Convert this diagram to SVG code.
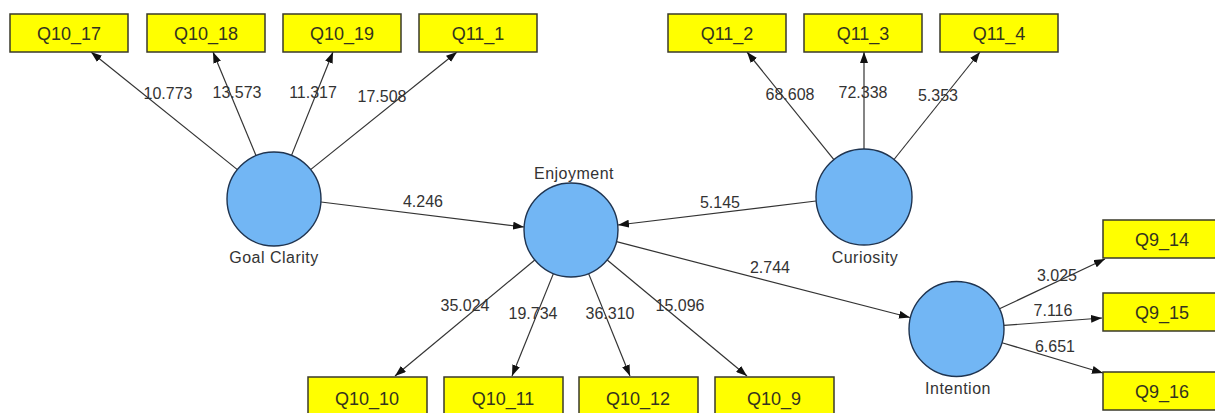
<svg xmlns="http://www.w3.org/2000/svg" width="1215" height="413" viewBox="0 0 1215 413">
  <style>
    .ind rect { fill: #ffff00; stroke: #3a3a2a; stroke-width: 1.5; }
    .ind text { font-family: "Liberation Sans", Arial, sans-serif; font-size: 18px; fill: #33331f; text-anchor: middle; }
    .lv circle { fill: #72b6f4; stroke: #1f3450; stroke-width: 1.4; }
    .lv text { font-family: "Liberation Sans", Arial, sans-serif; font-size: 16px; letter-spacing: 0.5px; fill: #333; text-anchor: middle; }
    .edges line { stroke: #333; stroke-width: 1.2; marker-end: url(#arrow); }
    .edges text { font-family: "Liberation Sans", Arial, sans-serif; font-size: 16px; fill: #333; text-anchor: middle; }
  </style>
  <defs>
    <marker id="arrow" markerUnits="userSpaceOnUse" markerWidth="11" markerHeight="8" refX="11" refY="4" orient="auto">
      <path d="M0,0 L11,4 L0,8 z" fill="#111"/>
    </marker>
  </defs>
  <rect width="1215" height="413" fill="#ffffff"/>

  <!-- path and loading connectors -->
  <g id="connectors" class="edges">
    <!-- Goal Clarity loadings -->
    <line x1="237.4" y1="169.6" x2="91" y2="52"/>
    <line x1="256" y1="155.6" x2="213" y2="52"/>
    <line x1="291.5" y1="155.4" x2="333" y2="52"/>
    <line x1="310.6" y1="169.6" x2="457" y2="52"/>
    <text x="168" y="99">10.773</text>
    <text x="237" y="97.5">13.573</text>
    <text x="313" y="97.5">11.317</text>
    <text x="382" y="102">17.508</text>

    <!-- Curiosity loadings -->
    <line x1="833.9" y1="159.7" x2="747" y2="52"/>
    <line x1="864" y1="149" x2="864" y2="52"/>
    <line x1="894" y1="159.5" x2="980" y2="52"/>
    <text x="790" y="100">68.608</text>
    <text x="863" y="98">72.338</text>
    <text x="938" y="101">5.353</text>

    <!-- structural paths -->
    <line x1="321" y1="202" x2="524" y2="227"/>
    <text x="423" y="207">4.246</text>
    <line x1="816" y1="201" x2="618" y2="225"/>
    <text x="720" y="208">5.145</text>
    <line x1="616.5" y1="241.7" x2="910" y2="317.5"/>
    <text x="770" y="273">2.744</text>

    <!-- Enjoyment loadings -->
    <line x1="534.8" y1="260" x2="395" y2="376"/>
    <line x1="553.4" y1="273.6" x2="512" y2="376"/>
    <line x1="588.6" y1="273.6" x2="630" y2="376"/>
    <line x1="607.2" y1="260" x2="747" y2="376"/>
    <text x="465" y="311">35.024</text>
    <text x="533" y="319">19.734</text>
    <text x="610" y="319">36.310</text>
    <text x="680" y="311">15.096</text>

    <!-- Intention loadings -->
    <line x1="999.5" y1="308.8" x2="1105" y2="259"/>
    <line x1="1003.9" y1="325.4" x2="1102" y2="318"/>
    <line x1="1002" y1="342.7" x2="1103" y2="373"/>
    <text x="1057" y="281">3.025</text>
    <text x="1053" y="316">7.116</text>
    <text x="1055" y="352">6.651</text>
  </g>

  <!-- latent variables -->
  <g id="goal-clarity" class="lv">
    <circle cx="274" cy="199" r="47"/>
    <text x="274" y="263">Goal Clarity</text>
  </g>
  <g id="enjoyment" class="lv">
    <circle cx="571" cy="230" r="47"/>
    <text x="574" y="178.5">Enjoyment</text>
  </g>
  <g id="curiosity" class="lv">
    <circle cx="864" cy="197" r="48"/>
    <text x="865" y="262.5">Curiosity</text>
  </g>
  <g id="intention" class="lv">
    <circle cx="956.5" cy="329" r="47.5"/>
    <text x="958" y="394">Intention</text>
  </g>

  <!-- indicators -->
  <g id="Q10_17" class="ind"><rect x="10" y="14" width="118" height="38"/><text x="69" y="39.5">Q10_17</text></g>
  <g id="Q10_18" class="ind"><rect x="147" y="14" width="118" height="38"/><text x="206" y="39.5">Q10_18</text></g>
  <g id="Q10_19" class="ind"><rect x="283" y="14" width="118" height="38"/><text x="342" y="39.5">Q10_19</text></g>
  <g id="Q11_1" class="ind"><rect x="419" y="14" width="118" height="38"/><text x="478" y="39.5">Q11_1</text></g>
  <g id="Q11_2" class="ind"><rect x="668" y="14" width="118" height="38"/><text x="727" y="39.5">Q11_2</text></g>
  <g id="Q11_3" class="ind"><rect x="804" y="14" width="118" height="38"/><text x="863" y="39.5">Q11_3</text></g>
  <g id="Q11_4" class="ind"><rect x="940" y="14" width="118" height="38"/><text x="999" y="39.5">Q11_4</text></g>

  <g id="Q10_10" class="ind"><rect x="308" y="377" width="119" height="38"/><text x="367" y="404.5">Q10_10</text></g>
  <g id="Q10_11" class="ind"><rect x="444" y="377" width="119" height="38"/><text x="503" y="404.5">Q10_11</text></g>
  <g id="Q10_12" class="ind"><rect x="579" y="377" width="119" height="38"/><text x="638" y="404.5">Q10_12</text></g>
  <g id="Q10_9" class="ind"><rect x="715" y="377" width="119" height="38"/><text x="774" y="404.5">Q10_9</text></g>

  <g id="Q9_14" class="ind"><rect x="1103" y="220" width="118" height="38"/><text x="1162" y="245.5">Q9_14</text></g>
  <g id="Q9_15" class="ind"><rect x="1103" y="293" width="118" height="38"/><text x="1162" y="318.5">Q9_15</text></g>
  <g id="Q9_16" class="ind"><rect x="1103" y="372" width="118" height="38"/><text x="1162" y="397.5">Q9_16</text></g>
</svg>
